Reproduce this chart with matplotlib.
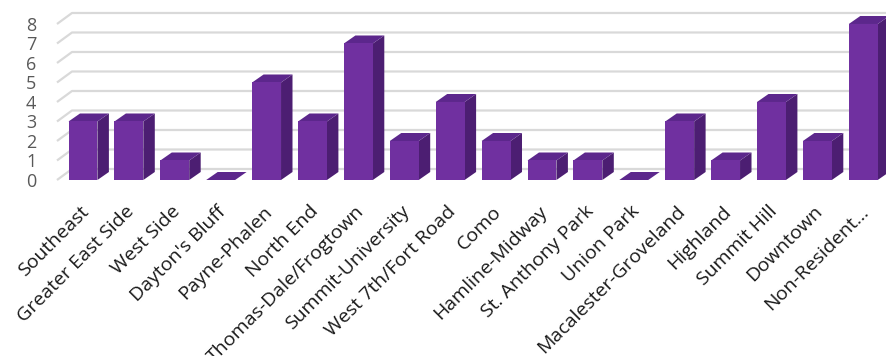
import numpy as np
import matplotlib.pyplot as plt
from matplotlib.patches import Polygon

neighborhoods = ['Southeast', 'Greater East Side', 'West Side', "Dayton's Bluff",
                 'Payne-Phalen', 'North End', 'Thomas-Dale/Frogtown',
                 'Summit-University', 'West 7th/Fort Road', 'Como',
                 'Hamline-Midway', 'St. Anthony Park', 'Union Park',
                 'Macalester-Groveland', 'Highland', 'Summit Hill', 'Downtown',
                 'Non-Resident...']
counts = [3, 3, 1, 0, 5, 3, 7, 2, 4, 2, 1, 1, 0, 3, 1, 4, 2, 8]
yticks = [0, 1, 2, 3, 4, 5, 6, 7, 8]

front_c = '#7030a0'
side_c = '#4c1e72'
top_c = '#5c278c'
grid_c = '#d9d9d9'

plt.rcParams['font.family'] = ['Open Sans', 'DejaVu Sans']

fig = plt.figure(figsize=(8.88, 3.56), dpi=100)
ax = fig.add_axes([0.0314, 0.467, 0.9666, 0.5204])
ax.set_xlim(-1.2, 17.5)
ax.set_ylim(-0.5, 9)
ax.axis('off')

x = np.arange(len(counts))
w = 0.63
dxb, dyb = 0.25, 0.41   # bar depth
dxw, dyw = 0.327, 0.564  # back wall depth

# back wall gridlines with slanted left edge
x0 = -0.566
for v in yticks:
    ax.plot([x0, x0 + dxw, 17.5], [v, v + dyw, v + dyw], color=grid_c,
            lw=1.6, zorder=0, solid_capstyle='butt')
    ax.text(x0 - 0.45, v - 0.1, str(v), ha='right', va='center',
            fontsize=13, color='#595959')

# pseudo-3D bars
ax.bar(x, counts, width=w, color=front_c, zorder=3)
for xi, v in zip(x, counts):
    r = xi + w / 2
    l = xi - w / 2
    side = Polygon([(r, 0), (r + dxb, dyb), (r + dxb, v + dyb), (r, v)],
                   closed=True, color=side_c, zorder=2, lw=0)
    top = Polygon([(l, v), (r, v), (r + dxb, v + dyb), (l + dxb, v + dyb)],
                  closed=True, color=top_c, zorder=2, lw=0)
    ax.add_patch(side)
    ax.add_patch(top)

# category labels
for xi, name in zip(x, neighborhoods):
    ax.text(xi - 0.08, -1.15, name, rotation=45, ha='right', va='top',
            rotation_mode='anchor', fontsize=14, color='#1a1a1a')

fig.savefig('out.png', dpi=100)
